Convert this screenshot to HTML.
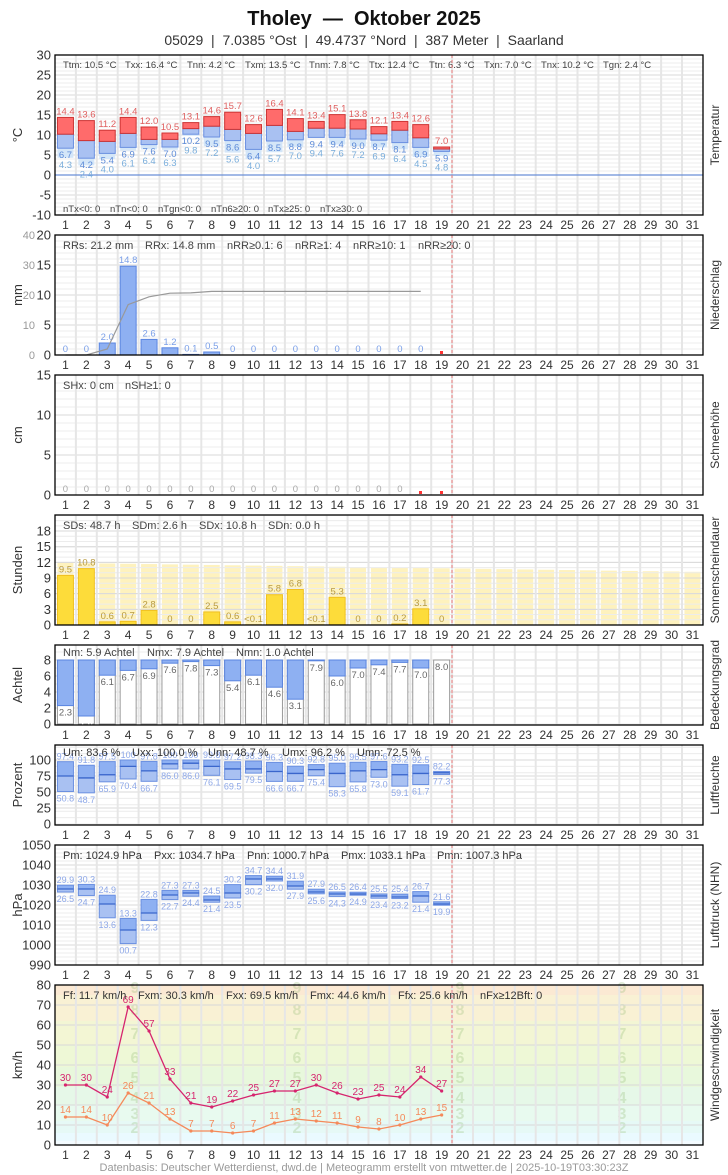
<!DOCTYPE html>
<html><head><meta charset="utf-8"><style>
html,body{margin:0;padding:0;background:#fff;}
svg{display:block;font-family:"Liberation Sans",sans-serif;}
</style></head><body>
<svg id="s" width="728" height="1175" xmlns="http://www.w3.org/2000/svg"></svg>
<script>
var S=document.getElementById('s');var out='';
function cx(i){return 55+(i-0.5)*20.9;}
function r(x,y,w,h,f,st,sw,op){out+='<rect x="'+x+'" y="'+y+'" width="'+w+'" height="'+h+'" fill="'+f+'"'+(st?' stroke="'+st+'" stroke-width="'+(sw||1)+'"':'')+(op!=null?' fill-opacity="'+op+'"':'')+'/>';}
function l(x1,y1,x2,y2,c,w,d){out+='<line x1="'+x1+'" y1="'+y1+'" x2="'+x2+'" y2="'+y2+'" stroke="'+c+'" stroke-width="'+(w||1)+'"'+(d?' stroke-dasharray="'+d+'"':'')+'/>';}
function t(x,y,s,sz,c,a,extra){out+='<text x="'+x+'" y="'+y+'" font-size="'+sz+'" fill="'+c+'" text-anchor="'+(a||'middle')+'" '+(extra||'')+'>'+s+'</text>';}
var L=55,R=703;
function panel(top,bot,ticks,yf,minorStep,minorFrom,minorTo,title,right,bg){
 if(bg)bg();
 for(var v=minorFrom;v<=minorTo+1e-9;v+=minorStep){var y=yf(v);if(y>top&&y<bot)l(L,y,R,y,'#ececec',1);}
 ticks.forEach(function(v){var y=yf(v);if(y>top+1&&y<bot-1)l(L,y,R,y,'#d8d8d8',1);t(51,y+4.5,v,13,'#333','end');});
 for(var i=1;i<31;i++){var x=L+i*20.9;l(x,top,x,bot,'#e6e6e6',2);}
 for(var i=1;i<=31;i++)t(cx(i),bot+14,i,12,'#333');
 t(22,(top+bot)/2,title,13,'#333','middle','transform="rotate(-90 22 '+((top+bot)/2)+')"');
 t(719,(top+bot)/2,right,12,'#333','middle','transform="rotate(-90 719 '+((top+bot)/2)+')"');
}
function frame(top,bot){l(452,top,452,bot,'#f08080',1,'3,2');r(L,top,R-L,bot-top,'none','#000',1.3);}
t(364,25,'Tholey  —  Oktober 2025',20,'#111','middle','font-weight="bold" style="white-space:pre" xml:space="preserve"');
t(364,45,'05029  |  7.0385 °Ost  |  49.4737 °Nord  |  387 Meter  |  Saarland',14,'#333','middle','style="white-space:pre" xml:space="preserve"');
// Temperature
var yT=function(v){return 175-4*v;};
panel(55,215,[30,25,20,15,10,5,0,-5,-10],yT,1,-10,30,'°C','Temperatur');
l(L,175,R,175,'#6a8fd8',1.2);
var T=[[14.4,10.2,6.7,4.3],[13.6,8.6,4.2,2.4],[11.2,8.4,5.4,4.0],[14.4,10.4,6.9,6.1],[12.0,8.9,7.6,6.4],[10.5,8.9,7.0,6.3],[13.1,11.6,10.2,9.8],[14.6,12.2,9.5,7.2],[15.7,11.4,8.6,5.6],[12.6,10.4,6.4,4.0],[16.4,12.4,8.5,5.7],[14.1,10.9,8.8,7.0],[13.4,11.7,9.4,9.4],[15.1,11.7,9.4,7.6],[13.8,11.5,9.0,7.2],[12.1,10.3,8.7,6.9],[13.4,11.2,8.1,6.4],[12.6,9.3,6.9,4.5],[7.0,6.5,5.9,4.8]];
T.forEach(function(d,k){var x=cx(k+1)-8;
 r(x,yT(d[2]),16,yT(d[3])-yT(d[2]),'#d4e6f8');
 r(x,yT(d[1]),16,yT(d[2])-yT(d[1]),'#a9c1f2','#6a8fe0');
 r(x,yT(d[0]),16,yT(d[1])-yT(d[0]),'#ff6b6b','#cc3333');
 t(cx(k+1),yT(d[0])-3,d[0].toFixed(1),9.5,'#e06060');
 t(cx(k+1),yT(d[2])+10,d[2].toFixed(1),9.5,'#5d8bd8');
 t(cx(k+1),yT(Math.min(d[3],d[2]-2.3))+10,d[3].toFixed(1),9.5,'#7aaedc');
});
['Ttm: 10.5 °C','Txx: 16.4 °C','Tnn: 4.2 °C','Txm: 13.5 °C','Tnm: 7.8 °C','Ttx: 12.4 °C','Ttn: 6.3 °C','Txn: 7.0 °C','Tnx: 10.2 °C','Tgn: 2.4 °C'].forEach(function(s,k){t([63,125,187,245,309,369,429,484,541,603][k],68,s,9.5,'#444','start');});
['nTx&lt;0: 0','nTn&lt;0: 0','nTgn&lt;0: 0','nTn6≥20: 0','nTx≥25: 0','nTx≥30: 0'].forEach(function(s,k){t([63,110,158,211,268,320][k],212,s,9.5,'#444','start');});
frame(55,215);
// Precip
var yP=function(v){return 355-6*v;};
panel(235,355,[20,15,10,5,0],yP,1,0,20,'mm','Niederschlag');
[40,30,20,10,0].forEach(function(v){t(35,355-3*v+4,v,11,'#999','end');});
var P=[0,0,2.0,14.8,2.6,1.2,0.1,0.5,0,0,0,0,0,0,0,0,0,0];
var cum=0,pts=[];
P.forEach(function(v,k){if(v>0)r(cx(k+1)-8,yP(v),16,6*v,'#8eb0f2','#5a85e0');t(cx(k+1),yP(v)-3,v==0?'0':v.toFixed(1),9.5,'#7a9fe8');cum+=v;pts.push(cx(k+1)+','+(355-3*cum));});
out+='<polyline points="'+pts.join(' ')+'" fill="none" stroke="#999" stroke-width="1.2"/>';
r(440,351,3,3,'#f33');
['RRs: 21.2 mm','RRx: 14.8 mm','nRR≥0.1: 6','nRR≥1: 4','nRR≥10: 1','nRR≥20: 0'].forEach(function(s,k){t([63,145,227,295,353,418][k],249,s,11,'#444','start');});
frame(235,355);
// Snow
var yS=function(v){return 495-8*v;};
panel(375,495,[15,10,5,0],yS,1,0,15,'cm','Schneehöhe');
for(var i=1;i<=17;i++)t(cx(i),492,'0',9.5,'#aaa');
r(419,491,3,3,'#f33');r(440,491,3,3,'#f33');
['SHx: 0 cm','nSH≥1: 0'].forEach(function(s,k){t([63,125][k],389,s,11,'#444','start');});
frame(375,495);
// Sun
var yU=function(v){return 625-5.22*v;};
panel(515,625,[18,15,12,9,6,3,0],yU,1,0,21,'Stunden','Sonnenscheindauer',function(){
 for(var i=1;i<=31;i++){var p=11.9-(i-1)*0.057;r(cx(i)-8,yU(p),16,5.22*p,'#fdeea8',null,null,0.75);}
});
var U=[9.5,10.8,0.6,0.7,2.8,0,0,2.5,0.6,'<0.1',5.8,6.8,'<0.1',5.3,0,0,0.2,3.1,0];
U.forEach(function(v,k){var n=typeof v=='string'?0.03:v;if(n>0)r(cx(k+1)-8,yU(n),16,5.22*n,'#fddc3a','#f0c020');t(cx(k+1),yU(n)-3,typeof v=='string'?'&lt;0.1':(v==0?'0':v.toFixed(1)),9.5,'#b89a40');});
['SDs: 48.7 h','SDm: 2.6 h','SDx: 10.8 h','SDn: 0.0 h'].forEach(function(s,k){t([63,132,199,268][k],529,s,11,'#444','start');});
frame(515,625);
// Cloud
var yN=function(v){return 724-8*v;};
panel(645,725,[8,6,4,2,0],yN,1,0,10,'Achtel','Bedeckungsgrad');
var N=[2.3,1.0,6.1,6.7,6.9,7.6,7.8,7.3,5.4,6.1,4.6,3.1,7.9,6.0,7.0,7.4,7.7,7.0,8.0];
N.forEach(function(v,k){var x=cx(k+1)-8;r(x,660,16,64,'#fff','#999');if(v<8)r(x,660,16,yN(v)-660,'#8eb0f2','#5a85e0');t(cx(k+1),yN(v)+10,v.toFixed(1),9.5,k==1?'#fff':'#666','middle',k==1?'font-weight="bold"':'');});
['Nm: 5.9 Achtel','Nmx: 7.9 Achtel','Nmn: 1.0 Achtel'].forEach(function(s,k){t([63,147,236][k],656,s,11,'#444','start');});
frame(645,725);
// Humidity
var yH=function(v){return 824-0.64*v;};
panel(745,825,[100,75,50,25,0],yH,10,0,120,'Prozent','Luftfeuchte');
var H=[[97.4,75,50.8],[91.8,72,48.7],[97.5,77,65.9],[100,90,70.4],[97.8,83,66.7],[100,94,86.0],[100,95,86.0],[99.8,90,76.1],[97.2,86,69.5],[98.3,86,79.5],[96.3,82,66.6],[90.3,79,66.7],[92.8,85,75.4],[95.0,79,58.3],[96.5,83,65.8],[97.6,85,73.0],[93.2,77,59.1],[92.5,79,61.7],[82.2,80,77.3]];
H.forEach(function(d,k){var x=cx(k+1)-8;r(x,yH(d[1]),16,yH(d[2])-yH(d[1]),'#a9c1f2','#6a8fe0');r(x,yH(d[0]),16,yH(d[1])-yH(d[0]),'#8eb0f2','#6a8fe0');l(x,yH(d[1]),x+16,yH(d[1]),'#3a66cc',1.3);
 t(cx(k+1),yH(d[0])-2,d[0]==100?'100':d[0].toFixed(1),9,'#8ea8e8');t(cx(k+1),yH(d[2])+10,d[2].toFixed(1),9,'#8ea8e8');});
['Um: 83.6 %','Uxx: 100.0 %','Unn: 48.7 %','Umx: 96.2 %','Umn: 72.5 %'].forEach(function(s,k){t([63,132,208,282,357][k],756,s,11,'#333','start');});
frame(745,825);
// Pressure
var yQ=function(v){return 965-2*(v-990);};
panel(845,965,[1050,1040,1030,1020,1010,1000,990],yQ,2,990,1050,'hPa','Luftdruck (NHN)');
var Q=[[29.9,28,26.5],[30.3,28,24.7],[24.9,20.5,13.6],[13.3,7.5,0.7],[22.8,16,12.3],[27.3,25,22.7],[27.3,26,24.4],[24.5,22.5,21.4],[30.2,26,23.5],[34.7,33,30.2],[34.4,33,32.0],[31.9,29.5,27.9],[27.9,26.5,25.6],[26.5,25.5,24.3],[26.4,25.5,24.9],[25.5,24.5,23.4],[25.4,24,23.2],[26.7,24.5,21.4],[21.6,20.5,19.9]];
Q.forEach(function(d,k){var x=cx(k+1)-8;r(x,yQ(1000+d[1]),16,yQ(1000+d[2])-yQ(1000+d[1]),'#a9c1f2','#6a8fe0');r(x,yQ(1000+d[0]),16,yQ(1000+d[1])-yQ(1000+d[0]),'#8eb0f2','#6a8fe0');l(x,yQ(1000+d[1]),x+16,yQ(1000+d[1]),'#3a66cc',1.3);
 t(cx(k+1),yQ(1000+d[0])-2,d[0].toFixed(1),9,'#8ea8e8');t(cx(k+1),yQ(1000+d[2])+10,(d[2]<10?'0':'')+d[2].toFixed(1),9,'#8ea8e8');});
['Pm: 1024.9 hPa','Pxx: 1034.7 hPa','Pnn: 1000.7 hPa','Pmx: 1033.1 hPa','Pmn: 1007.3 hPa'].forEach(function(s,k){t([63,154,247,341,437][k],859,s,11,'#333','start');});
frame(845,965);
// Wind
var yW=function(v){return 1145-2*v;};
panel(985,1145,[80,70,60,50,40,30,20,10,0],yW,10,0,80,'km/h','Windgeschwindigkeit',function(){
 var b=[[0,2,'#f3fbff'],[2,6,'#eafaff'],[6,12,'#e6f9f6'],[12,20,'#e8faef'],[20,29,'#e6f8e8'],[29,39,'#e8f8dc'],[39,50,'#eef8d6'],[50,62,'#f3f6d4'],[62,75,'#f9f1d4'],[75,80,'#fbe9d3']];
 b.forEach(function(z){r(L,yW(z[1]),R-L,yW(z[0])-yW(z[1]),z[2]);});
 var bf=[[2,9],[3,16],[4,24],[5,34],[6,44],[7,56],[8,68],[9,79]];
 [135,297,460,622].forEach(function(x){bf.forEach(function(b){t(x,yW(b[1])+6,b[0],16,'rgba(150,190,120,0.3)','middle','font-weight="bold"');});});
});
var G=[30,30,24,69,57,33,21,19,22,25,27,27,30,26,23,25,24,34,27];
var M=[14,14,10,26,21,13,7,7,6,7,11,13,12,11,9,8,10,13,15];
function series(a,c){var p=a.map(function(v,k){return cx(k+1)+','+yW(v);});out+='<polyline points="'+p.join(' ')+'" fill="none" stroke="'+c+'" stroke-width="1.3"/>';a.forEach(function(v,k){out+='<circle cx="'+cx(k+1)+'" cy="'+yW(v)+'" r="1.6" fill="'+c+'"/>';t(cx(k+1),yW(v)-4,v,10,c);});}
series(M,'#f5895a');series(G,'#d6256e');
['Ff: 11.7 km/h','Fxm: 30.3 km/h','Fxx: 69.5 km/h','Fmx: 44.6 km/h','Ffx: 25.6 km/h','nFx≥12Bft: 0'].forEach(function(s,k){t([63,138,226,310,398,480][k],999,s,11,'#333','start');});
frame(985,1145);
t(364,1171,'Datenbasis: Deutscher Wetterdienst, dwd.de | Meteogramm erstellt von mtwetter.de | 2025-10-19T03:30:23Z',11,'#999');
S.innerHTML=out;
</script>
</body></html>
